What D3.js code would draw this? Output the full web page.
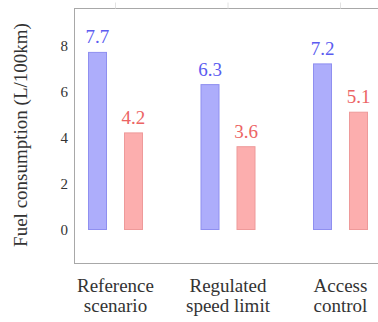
<!DOCTYPE html>
<html>
<head>
<meta charset="utf-8">
<script src="https://cdn.jsdelivr.net/npm/d3@7/dist/d3.min.js"></script>
<style>
  html, body { margin: 0; padding: 0; background: #fff; }
  svg { display: block; }
</style>
</head>
<body>
<svg id="chart" width="378" height="322"></svg>
<script>
// Fuel consumption per scenario, two series per scenario
const categories = ["Reference scenario", "Regulated speed limit", "Access control"];
const categoryLines = [["Reference", "scenario"], ["Regulated", "speed limit"], ["Access", "control"]];
const seriesBlue = [7.7, 6.3, 7.2];
const seriesRed = [4.2, 3.6, 5.1];
const yTicks = [0, 2, 4, 6, 8];
const yTitle = "Fuel consumption (L/100km)";

const svg = d3.select("#chart");
const font = "Liberation Serif";
const fs = 19;

// Plot frame (right edge runs just past the window)
const frame = { left: 74.5, right: 381.5, top: 8.5, bottom: 263.5 };

const x = d3.scalePoint()
  .domain(categories)
  .range([frame.left, frame.right])
  .padding(0.3644);

const y = d3.scaleLinear()
  .domain([-1.478, 9.609])
  .range([frame.bottom, frame.top]);

const barW = 18;
const offset = 18;

const series = [
  { values: seriesBlue, dx: -offset, fill: "#adadfb", stroke: "#8f8ff0", text: "#5b5bf0" },
  { values: seriesRed, dx: offset, fill: "#fcaeae", stroke: "#ee9a9a", text: "#ec6464" }
];

// Frame
svg.append("rect")
  .attr("x", frame.left)
  .attr("y", frame.top)
  .attr("width", frame.right - frame.left)
  .attr("height", frame.bottom - frame.top)
  .attr("fill", "none")
  .attr("stroke", "#a8a8a8")
  .attr("stroke-width", 1);

// Small tick marks on the top edge at each category
svg.append("g")
  .selectAll("line")
  .data(categories)
  .join("line")
  .attr("x1", d => x(d))
  .attr("x2", d => x(d))
  .attr("y1", frame.top)
  .attr("y2", frame.top - 6)
  .attr("stroke", "#e2e2e2")
  .attr("stroke-width", 1);

// Y tick labels
svg.append("g")
  .selectAll("text")
  .data(yTicks)
  .join("text")
  .attr("x", 68)
  .attr("y", d => y(d))
  .attr("dy", "0.34em")
  .attr("text-anchor", "end")
  .attr("font-family", font)
  .attr("font-size", 15)
  .attr("fill", "#333")
  .text(d => d);

// Bars and value labels
series.forEach(s => {
  const g = svg.append("g");
  g.selectAll("rect")
    .data(s.values)
    .join("rect")
    .attr("x", (d, i) => x(categories[i]) + s.dx - barW / 2)
    .attr("y", d => y(d))
    .attr("width", barW)
    .attr("height", d => y(0) - y(d))
    .attr("fill", s.fill)
    .attr("stroke", s.stroke)
    .attr("stroke-width", 1);

  g.selectAll("text")
    .data(s.values)
    .join("text")
    .attr("x", (d, i) => x(categories[i]) + s.dx)
    .attr("y", d => y(d) - 9)
    .attr("text-anchor", "middle")
    .attr("font-family", font)
    .attr("font-size", fs)
    .attr("fill", s.text)
    .text(d => d.toFixed(1));
});

// Category labels, two lines each
const xl = svg.append("g")
  .selectAll("text")
  .data(categories)
  .join("text")
  .attr("x", d => x(d))
  .attr("y", 292)
  .attr("text-anchor", "middle")
  .attr("font-family", font)
  .attr("font-size", fs)
  .attr("fill", "#333");
xl.each(function(d, i) {
  const t = d3.select(this);
  categoryLines[i].forEach((line, j) => {
    t.append("tspan")
      .attr("x", x(d))
      .attr("dy", j === 0 ? 0 : 20)
      .text(line);
  });
});

// Y axis title
svg.append("text")
  .attr("transform", "translate(27,135) rotate(-90)")
  .attr("text-anchor", "middle")
  .attr("font-family", font)
  .attr("font-size", fs)
  .attr("fill", "#333")
  .text(yTitle);
</script>
</body>
</html>
